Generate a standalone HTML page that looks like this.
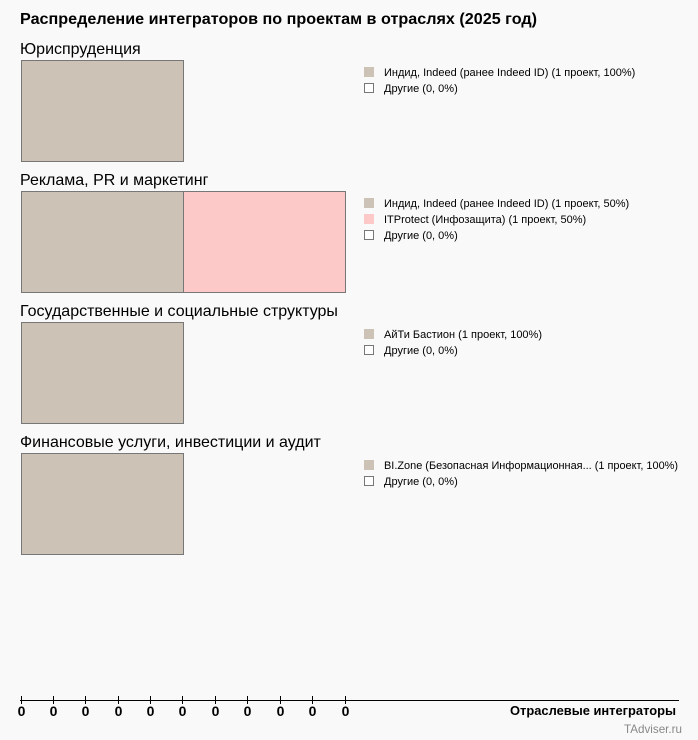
<!DOCTYPE html>
<html><head><meta charset="utf-8"><style>
html,body{margin:0;background:#f9f9f9;font-family:"Liberation Sans",sans-serif;overflow:hidden}
svg{display:block}
svg text{font-family:"Liberation Sans",sans-serif}
</style></head><body>
<svg width="698" height="740" xmlns="http://www.w3.org/2000/svg">
<rect width="698" height="740" fill="#f9f9f9"/>
<text x="20" y="24" font-size="16" font-weight="bold" fill="#000" textLength="517" lengthAdjust="spacingAndGlyphs">Распределение интеграторов по проектам в отраслях (2025 год)</text>
<g font-size="16" fill="#000">
<text x="20" y="54">Юриспруденция</text>
<text x="20" y="185">Реклама, PR и маркетинг</text>
<text x="20" y="316">Государственные и социальные структуры</text>
<text x="20" y="447">Финансовые услуги, инвестиции и аудит</text>
</g>
<g stroke="#777" stroke-width="1">
<rect x="21.5" y="60.5" width="162" height="101" fill="#cdc2b6"/>
<rect x="21.5" y="191.5" width="162" height="101" fill="#cdc2b6"/>
<rect x="183.5" y="191.5" width="162" height="101" fill="#fcc8c8"/>
<rect x="21.5" y="322.5" width="162" height="101" fill="#cdc2b6"/>
<rect x="21.5" y="453.5" width="162" height="101" fill="#cdc2b6"/>
</g>
<g font-size="11" fill="#000">
<rect x="364" y="67" width="10" height="10" fill="#cdc2b6"/><text x="384" y="76">Индид, Indeed (ранее Indeed ID) (1 проект, 100%)</text>
<rect x="364.5" y="83.5" width="9" height="9" fill="#fff" stroke="#777"/><text x="384" y="92">Другие (0, 0%)</text>
<rect x="364" y="198" width="10" height="10" fill="#cdc2b6"/><text x="384" y="207">Индид, Indeed (ранее Indeed ID) (1 проект, 50%)</text>
<rect x="364" y="214" width="10" height="10" fill="#fcc8c8"/><text x="384" y="223">ITProtect (Инфозащита) (1 проект, 50%)</text>
<rect x="364.5" y="230.5" width="9" height="9" fill="#fff" stroke="#777"/><text x="384" y="239">Другие (0, 0%)</text>
<rect x="364" y="329" width="10" height="10" fill="#cdc2b6"/><text x="384" y="338">АйТи Бастион (1 проект, 100%)</text>
<rect x="364.5" y="345.5" width="9" height="9" fill="#fff" stroke="#777"/><text x="384" y="354">Другие (0, 0%)</text>
<rect x="364" y="460" width="10" height="10" fill="#cdc2b6"/><text x="384" y="469" textLength="294" lengthAdjust="spacingAndGlyphs">BI.Zone (Безопасная Информационная... (1 проект, 100%)</text>
<rect x="364.5" y="476.5" width="9" height="9" fill="#fff" stroke="#777"/><text x="384" y="485">Другие (0, 0%)</text>
</g>
<line x1="20" y1="700.5" x2="679" y2="700.5" stroke="#000" stroke-width="1"/>
<g stroke="#000">
<line x1="21.5" y1="696" x2="21.5" y2="704"/><line x1="53.5" y1="696" x2="53.5" y2="704"/><line x1="85.5" y1="696" x2="85.5" y2="704"/><line x1="118.5" y1="696" x2="118.5" y2="704"/><line x1="150.5" y1="696" x2="150.5" y2="704"/><line x1="182.5" y1="696" x2="182.5" y2="704"/><line x1="215.5" y1="696" x2="215.5" y2="704"/><line x1="247.5" y1="696" x2="247.5" y2="704"/><line x1="280.5" y1="696" x2="280.5" y2="704"/><line x1="312.5" y1="696" x2="312.5" y2="704"/><line x1="345.5" y1="696" x2="345.5" y2="704"/>
</g>
<g font-size="14" font-weight="bold" text-anchor="middle" fill="#000">
<text x="21.5" y="716">0</text><text x="53.5" y="716">0</text><text x="85.5" y="716">0</text><text x="118.5" y="716">0</text><text x="150.5" y="716">0</text><text x="182.5" y="716">0</text><text x="215.5" y="716">0</text><text x="247.5" y="716">0</text><text x="280.5" y="716">0</text><text x="312.5" y="716">0</text><text x="345.5" y="716">0</text>
</g>
<text x="510" y="715" font-size="13" font-weight="bold" fill="#000" textLength="166" lengthAdjust="spacingAndGlyphs">Отраслевые интеграторы</text>
<text x="624" y="733" font-size="12" fill="#888" textLength="58" lengthAdjust="spacingAndGlyphs">TAdviser.ru</text>
</svg>
</body></html>
